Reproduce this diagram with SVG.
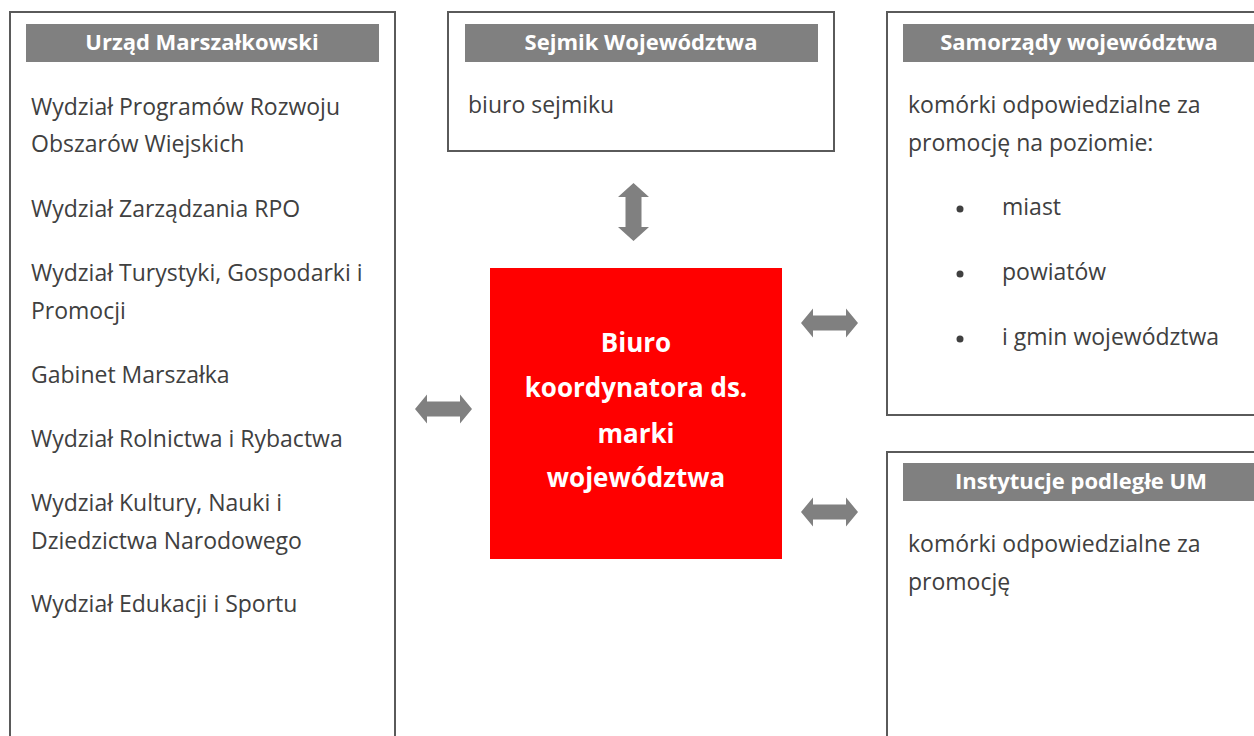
<svg xmlns="http://www.w3.org/2000/svg" width="1254" height="736" viewBox="0 0 1254 736">
<defs>
<style>
.box{fill:#ffffff;stroke:#5a5a5a;stroke-width:2}
.bar{fill:#808080}
.hd{font-family:"Open Sans","Noto Sans",sans-serif;font-weight:bold;font-size:22px;fill:#ffffff;text-anchor:middle}
.tx{font-family:"Open Sans","Noto Sans",sans-serif;font-size:23px;fill:#404040}
.red{fill:#ff0000}
.rt{font-family:"Open Sans","Noto Sans",sans-serif;font-weight:bold;font-size:26px;fill:#ffffff;text-anchor:middle}
.arr{fill:#808080}
</style>
<path id="harr" d="M0,0 L12,-14.5 L12,-7.5 L45,-7.5 L45,-14.5 L57,0 L45,14.5 L45,7.5 L12,7.5 L12,14.5 Z"/>
</defs>
<rect width="1254" height="736" fill="#ffffff"/>

<g id="urzad">
<rect class="box" x="10" y="12" width="385" height="740"/>
<rect class="bar" x="26" y="24" width="353" height="38"/>
<text class="hd" x="202" y="50">Urząd Marszałkowski</text>
<text class="tx" x="31" y="115">Wydział Programów Rozwoju</text>
<text class="tx" x="31" y="152">Obszarów Wiejskich</text>
<text class="tx" x="31" y="217">Wydział Zarządzania RPO</text>
<text class="tx" x="31" y="281">Wydział Turystyki, Gospodarki i</text>
<text class="tx" x="31" y="319">Promocji</text>
<text class="tx" x="31" y="383">Gabinet Marszałka</text>
<text class="tx" x="31" y="447">Wydział Rolnictwa i Rybactwa</text>
<text class="tx" x="31" y="511">Wydział Kultury, Nauki i</text>
<text class="tx" x="31" y="549">Dziedzictwa Narodowego</text>
<text class="tx" x="31" y="612">Wydział Edukacji i Sportu</text>
</g>

<g id="sejmik">
<rect class="box" x="448" y="12" width="386" height="139"/>
<rect class="bar" x="465" y="24" width="353" height="38"/>
<text class="hd" x="641" y="50">Sejmik Województwa</text>
<text class="tx" x="468" y="113">biuro sejmiku</text>
</g>

<g id="samorzady">
<rect class="box" x="887" y="12" width="380" height="403"/>
<rect class="bar" x="903" y="24" width="360" height="38"/>
<text class="hd" x="1079" y="50">Samorządy województwa</text>
<text class="tx" x="908" y="113">komórki odpowiedzialne za</text>
<text class="tx" x="908" y="151">promocję na poziomie:</text>
<circle cx="960" cy="209" r="3.5" fill="#404040"/>
<text class="tx" x="1002" y="215">miast</text>
<circle cx="960" cy="274" r="3.5" fill="#404040"/>
<text class="tx" x="1002" y="280">powiatów</text>
<circle cx="960" cy="339" r="3.5" fill="#404040"/>
<text class="tx" x="1002" y="345">i gmin województwa</text>
</g>

<g id="instytucje">
<rect class="box" x="887" y="452" width="380" height="300"/>
<rect class="bar" x="903" y="463" width="360" height="38"/>
<text class="hd" x="1081" y="489">Instytucje podległe UM</text>
<text class="tx" x="908" y="552">komórki odpowiedzialne za</text>
<text class="tx" x="908" y="590">promocję</text>
</g>

<g id="biuro">
<rect class="red" x="490" y="268" width="292" height="291"/>
<text class="rt" x="636" y="352">Biuro</text>
<text class="rt" x="636" y="397">koordynatora ds.</text>
<text class="rt" x="636" y="443">marki</text>
<text class="rt" x="636" y="487">województwa</text>
</g>

<g id="connectors">
<use href="#harr" class="arr" x="415" y="409"/>
<use href="#harr" class="arr" x="801" y="323"/>
<use href="#harr" class="arr" x="801" y="512"/>
<path class="arr" d="M633.5,183 L649,197 L641.5,197 L641.5,227 L649,227 L633.5,241 L618,227 L625.5,227 L625.5,197 L618,197 Z"/>
</g>
</svg>
